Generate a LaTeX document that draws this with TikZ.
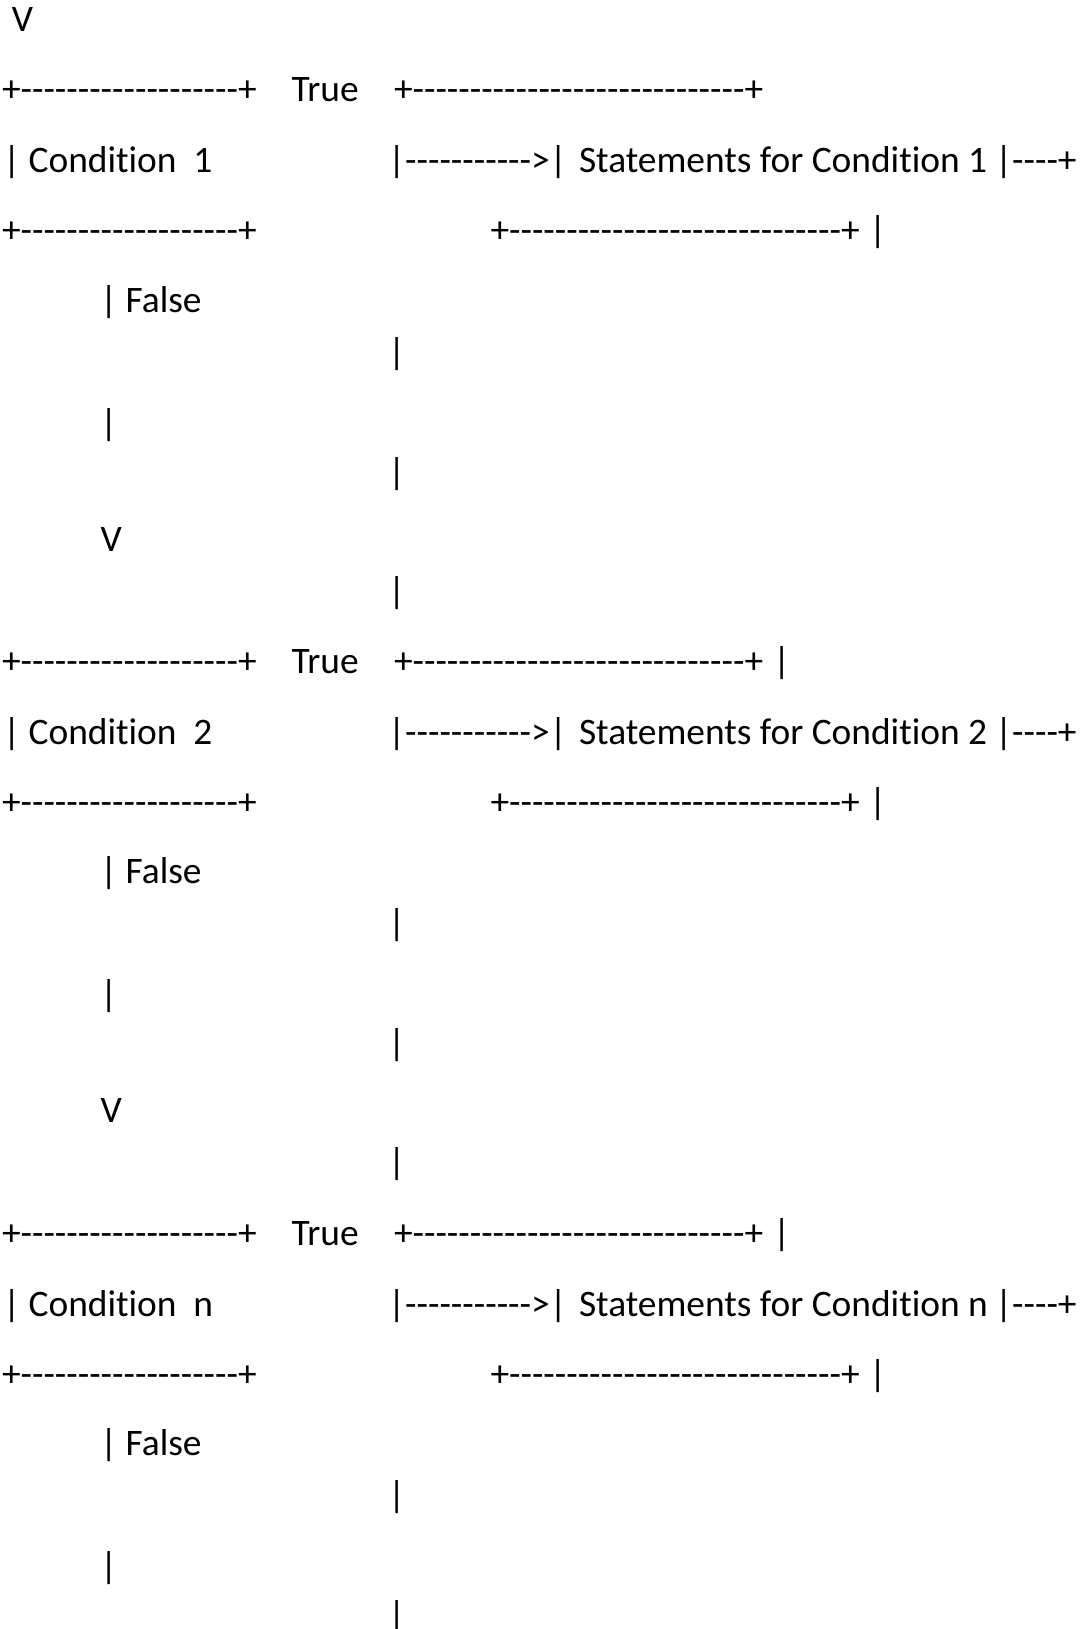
\documentclass[tikz,border=0pt]{standalone}
\usepackage{fontspec}
\setmainfont{Carlito}[Ligatures={TeXOff,CommonOff}]
\ExplSyntaxOn
\cs_new:Npn \dsh #1 { \prg_replicate:nn {#1} {-} }
\ExplSyntaxOff
\begin{document}
\begin{tikzpicture}[x=1pt,y=-1pt,
  txt/.style={inner sep=0pt, outer sep=0pt, anchor=base west,
              font=\fontsize{37.4}{44}\selectfont}]
\useasboundingbox (0,0) rectangle (1087,1629);
\fill[white] (0,0) rectangle (1087,1629);

% entry arrow head
\node[txt] (entry) at (12,32) {V};

% one block per condition: box, True branch, statements box, False path
\foreach \k/\B/\lab in {1/102/1, 2/673/2, 3/1245/n}{
  \node[txt] (tl\k) at (2,\B) {+\dsh{19}+};
  \node[txt] (tt\k) at (291.5,\B) {True};
  \node[txt] (tr\k) at (394,\B) {+\dsh{29}+};
  \ifnum\k>1 \node[txt] (tv\k) at (773,\B) {|}; \fi
  \node[txt] (cond\k) at (3,\B+71) {| Condition\ \ \lab};
  \node[txt] (arr\k) at (388,\B+71) {|\dsh{11}>|};
  \node[txt] (st\k) at (579,\B+71) {Statements for Condition \lab};
  \node[txt] (out\k) at (995,\B+71) {|\dsh{4}+};
  \node[txt] (bl\k) at (2,\B+141) {+\dsh{19}+};
  \node[txt] (br\k) at (490.5,\B+141) {+\dsh{29}+};
  \node[txt] (bv\k) at (869,\B+141) {|};
  \node[txt] (fa\k) at (100,\B+210) {| False};
  \node[txt] (ra\k) at (388,\B+262) {|};
  \node[txt] (la\k) at (100,\B+333) {|};
  \node[txt] (rb\k) at (388,\B+382) {|};
  \ifnum\k<3
    \node[txt] (dv\k) at (100.5,\B+449) {V};
    \node[txt] (rc\k) at (388,\B+501) {|};
  \fi
}
\end{tikzpicture}
\end{document}
